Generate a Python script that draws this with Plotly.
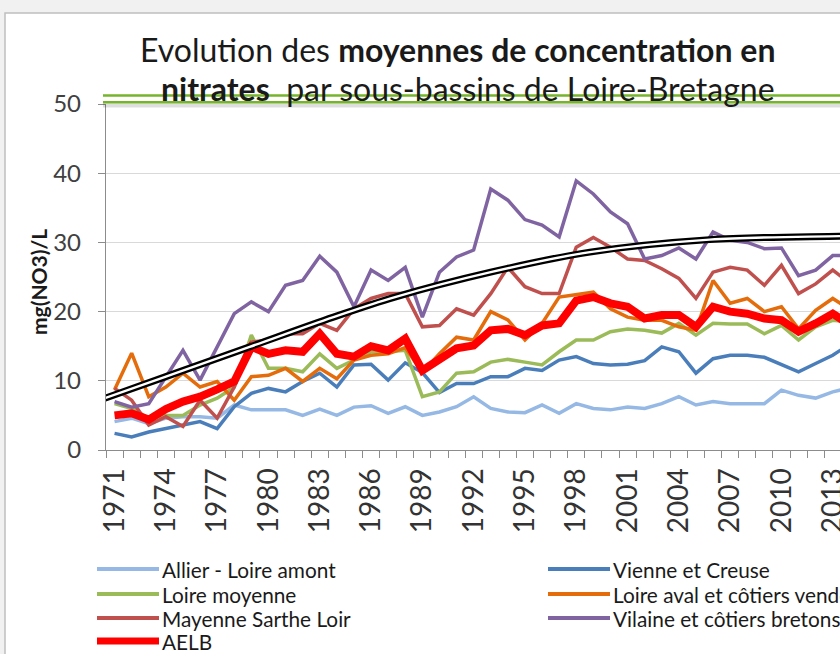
import plotly.graph_objects as go

# ---------------- data ----------------
years = list(range(1971, 2015))
year_labels = list(range(1971, 2014, 3))

allier = [4.1, 4.6, 3.8, 4.6, 4.8, 4.8, 4.6, 6.5, 5.8, 5.8, 5.8, 5.0, 5.9, 5.0, 6.2, 6.4,
          5.3, 6.25, 5.0, 5.5, 6.25, 7.7, 6.0, 5.5, 5.4, 6.5, 5.3, 6.7, 6.0, 5.8, 6.2, 6.0,
          6.7, 7.7, 6.5, 7.0, 6.7, 6.7, 6.7, 8.65, 7.9, 7.5, 8.4, 9.0]
vienne = [2.4, 1.9, 2.6, 3.1, 3.6, 4.1, 3.1, 6.25, 8.2, 8.9, 8.4, 9.9, 11.1, 9.1, 12.3, 12.4,
          10.1, 12.6, 11.2, 8.3, 9.6, 9.6, 10.6, 10.6, 11.8, 11.5, 13.0, 13.5, 12.5, 12.3, 12.4, 12.9,
          14.9, 14.2, 11.1, 13.2, 13.7, 13.7, 13.4, 12.4, 11.3, 12.5, 13.7, 15.3]
loire_moyenne = [6.7, 6.0, 4.6, 5.0, 5.0, 6.5, 7.5, 9.1, 16.6, 11.8, 11.8, 11.3, 13.9, 11.8, 13.0, 14.2,
                 14.2, 14.4, 7.7, 8.4, 11.1, 11.3, 12.7, 13.1, 12.7, 12.3, 14.2, 15.9, 15.9, 17.1, 17.5, 17.3,
                 16.9, 18.3, 16.6, 18.3, 18.2, 18.2, 16.8, 18.0, 15.9, 17.8, 18.75, 18.5]
loire_aval = [8.7, 14.0, 7.7, 9.1, 11.1, 9.1, 9.9, 7.2, 10.6, 10.8, 11.8, 9.9, 11.8, 10.3, 13.0, 13.7,
              13.9, 14.8, 11.2, 13.9, 16.3, 15.9, 20.0, 18.8, 15.9, 18.3, 22.1, 22.4, 22.8, 20.4, 19.2, 18.75,
              18.75, 17.8, 17.3, 24.5, 21.2, 21.9, 20.0, 20.7, 17.5, 20.2, 21.9, 20.3]
mayenne = [8.9, 7.2, 3.6, 4.8, 3.4, 7.2, 4.6, 9.1, 15.6, 15.9, 16.8, 16.8, 18.3, 17.3, 20.4, 21.9,
           22.6, 22.6, 17.8, 18.0, 20.4, 19.5, 22.6, 26.4, 23.6, 22.6, 22.6, 29.3, 30.7, 29.3, 27.6, 27.4,
           26.2, 24.8, 21.9, 25.7, 26.4, 26.0, 23.8, 26.7, 22.6, 24.0, 26.0, 24.1]
vilaine = [7.0, 6.2, 6.7, 10.6, 14.4, 10.1, 14.9, 19.7, 21.4, 20.0, 23.8, 24.5, 28.0, 25.7, 20.7, 26.0,
           24.5, 26.4, 19.2, 25.7, 27.9, 28.9, 37.7, 36.1, 33.3, 32.5, 30.8, 38.9, 37.0, 34.4, 32.7, 27.6,
           28.1, 29.2, 27.6, 31.5, 30.3, 30.0, 29.1, 29.2, 25.2, 26.0, 28.1, 28.1]
aelb = [5.0, 5.3, 4.4, 5.9, 7.0, 7.7, 8.75, 9.9, 14.9, 13.9, 14.4, 14.2, 16.8, 13.9, 13.5, 15.0,
        14.4, 16.1, 11.5, 13.0, 14.7, 15.1, 17.3, 17.5, 16.6, 18.0, 18.3, 21.6, 22.1, 21.2, 20.7, 19.0,
        19.5, 19.5, 17.8, 20.7, 20.0, 19.7, 19.0, 18.75, 17.1, 18.3, 19.7, 18.1]

trend_years = [1969.6, 1974.0, 1978.9, 1983.8, 1987.4, 1993.0, 1998.8, 2005.8, 2013.4, 2015.0]
trend_vals = [6.75, 10.6, 14.9, 19.2, 22.1, 25.7, 28.6, 30.4, 30.9, 31.0]

names = ["Allier - Loire amont", "Vienne et Creuse", "Loire moyenne",
         "Loire aval et côtiers vendéens", "Mayenne Sarthe Loir",
         "Vilaine et côtiers bretons", "AELB"]
values = [allier, vienne, loire_moyenne, loire_aval, mayenne, vilaine, aelb]
colors = ["#95B9E4", "#4A7EBB", "#9BBB59", "#E46C0A", "#C0504D", "#8064A2", "#FF0000"]
widths = [3.5, 3.5, 3.5, 3.5, 3.5, 3.5, 8]

# ---------------- geometry ----------------
W, H = 840, 654
ML, MR, MT, MB = 106, 0, 104, 204
PW, PH = W - ML - MR, H - MT - MB
PX_PER_YEAR = 17.1
X0 = 1970.5


def px(x):
    return (x - ML) / PW


def py(y):
    return (H - MB - y) / PH


FONT = "Lato, 'Open Sans', sans-serif"

fig = go.Figure()
for n, v, c, w in zip(names, values, colors, widths):
    fig.add_trace(go.Scatter(x=years, y=v, mode="lines", name=n,
                             line=dict(color=c, width=w), showlegend=False))

fig.add_trace(go.Scatter(x=trend_years, y=trend_vals, mode="lines",
                         line=dict(color="black", width=7, shape="spline"),
                         showlegend=False, hoverinfo="skip"))
fig.add_trace(go.Scatter(x=trend_years, y=trend_vals, mode="lines",
                         line=dict(color="white", width=2.4, shape="spline"),
                         showlegend=False, hoverinfo="skip"))

shapes = []
annotations = []

# outer frame
shapes.append(dict(type="rect", xref="paper", yref="paper",
                   x0=px(0), x1=px(W + 5), y0=py(0), y1=py(13),
                   fillcolor="#F1F1F1", line=dict(width=0), layer="below"))
shapes.append(dict(type="rect", xref="paper", yref="paper",
                   x0=px(0), x1=px(5), y0=py(H + 5), y1=py(0),
                   fillcolor="#F1F1F1", line=dict(width=0), layer="below"))
shapes.append(dict(type="rect", xref="paper", yref="paper",
                   x0=px(5), x1=px(W + 10), y0=py(H + 10), y1=py(13),
                   fillcolor="rgba(0,0,0,0)", line=dict(color="#BFBFBF", width=1.5)))

# threshold double green line (50 mg/L)
shapes.append(dict(type="line", xref="paper", yref="paper",
                   x0=px(103), x1=px(W + 10), y0=py(105.5), y1=py(105.5),
                   line=dict(color="rgba(0,0,0,0.13)", width=4)))
for yy in (95.5, 102.3):
    shapes.append(dict(type="line", xref="paper", yref="paper",
                       x0=px(103), x1=px(W + 10), y0=py(yy), y1=py(yy),
                       line=dict(color="#76B52B", width=2.6)))

# title (two lines)
annotations.append(dict(
    xref="paper", yref="paper", x=px(457), y=py(50), xanchor="center", yanchor="middle",
    text="Evolution des <b>moyennes de concentration en</b>",
    showarrow=False, font=dict(family=FONT, size=32, color="#1A1A1A")))
annotations.append(dict(
    xref="paper", yref="paper", x=px(468), y=py(88), xanchor="center", yanchor="middle",
    text="<b>nitrates</b>  par sous-bassins de Loire-Bretagne",
    showarrow=False, font=dict(family=FONT, size=32, color="#1A1A1A")))

# legend (manual, two columns)
leg_pos = [(97, 569), (548, 569), (97, 594), (548, 594), (97, 618), (548, 618), (97, 641)]
for (lx, ly), n, c, w in zip(leg_pos, names, colors, widths):
    shapes.append(dict(type="line", xref="paper", yref="paper",
                       x0=px(lx), x1=px(lx + 62), y0=py(ly), y1=py(ly),
                       line=dict(color=c, width=4 if w < 5 else 7)))
    annotations.append(dict(xref="paper", yref="paper", x=px(lx + 63), y=py(ly),
                            xanchor="left", yanchor="middle", text=n, showarrow=False,
                            font=dict(family=FONT, size=20.8, color="#1A1A1A")))

# y-axis title
annotations.append(dict(xref="paper", yref="paper", x=px(38), y=py(282),
                        xanchor="center", yanchor="middle", textangle=-90,
                        text="<b>mg(NO3)/L</b>", showarrow=False,
                        font=dict(family=FONT, size=21, color="#1A1A1A")))

fig.update_layout(
    width=W, height=H,
    margin=dict(l=ML, r=MR, t=MT, b=MB, autoexpand=False),
    paper_bgcolor="white", plot_bgcolor="white",
    showlegend=False,
    shapes=shapes, annotations=annotations,
    font=dict(family=FONT),
    xaxis=dict(range=[X0, X0 + PW / PX_PER_YEAR], tickmode="array",
               tickvals=year_labels, ticktext=[str(y) for y in year_labels],
               tickangle=-90, ticks="", showline=True, linecolor="#8C8C8C", linewidth=1.3,
               showgrid=False, zeroline=False, automargin=False,
               ticklabeloverflow="allow",
               tickfont=dict(family=FONT, size=28, color="#333333"),
               ticklabelstandoff=6,
               minor=dict(tickmode="linear", tick0=X0, dtick=1, ticks="outside",
                          ticklen=7, tickcolor="#8C8C8C", tickwidth=1.2, showgrid=False)),
    yaxis=dict(range=[0, 50], dtick=10, ticks="outside", ticklen=7, tickcolor="#8C8C8C",
               tickwidth=1.2, showline=True, linecolor="#8C8C8C", linewidth=1.3,
               gridcolor="#D9D9D9", gridwidth=1.3, zeroline=False, automargin=False,
               tickfont=dict(family=FONT, size=24, color="#404040"),
               ticklabelstandoff=12),
)

fig.write_html("out.html", config={"displayModeBar": False},
               post_script="document.body.style.margin='0';")
